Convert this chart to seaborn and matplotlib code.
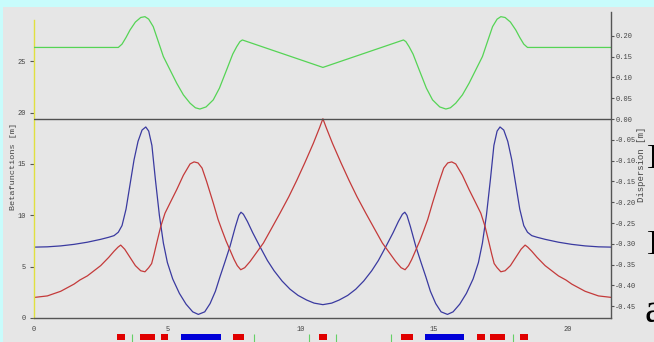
import numpy as np
import pandas as pd
import matplotlib
matplotlib.use("Agg")
import matplotlib.pyplot as plt
import seaborn as sns
from matplotlib.patches import Rectangle

# ---------------- data ----------------
s_betx = [0.0, 0.5, 1.0, 1.5, 2.0, 2.5, 2.8, 3.0, 3.16, 3.3, 3.45, 3.6, 3.75, 3.9, 4.05,
          4.19, 4.3, 4.42, 4.55, 4.7, 4.85, 5.0, 5.2, 5.45, 5.7, 5.95, 6.16, 6.4, 6.6, 6.8,
          6.97, 7.15, 7.35, 7.55, 7.68, 7.76, 7.85, 8.0, 8.2, 8.47, 8.75, 9.0, 9.3, 9.6, 9.9,
          10.22, 10.5, 10.83,
          11.16, 11.44, 11.76, 12.06, 12.36, 12.66, 12.91, 13.19, 13.46, 13.66, 13.81, 13.90,
          13.98, 14.11, 14.31, 14.51, 14.69, 14.86, 15.06, 15.26, 15.50, 15.71, 15.96, 16.21,
          16.46, 16.66, 16.81, 16.96, 17.11, 17.24, 17.36, 17.47, 17.61, 17.76, 17.91, 18.06,
          18.21, 18.36, 18.50, 18.66, 18.86, 19.16, 19.66, 20.16, 20.66, 21.16, 21.66]
betx = [6.90, 6.93, 7.02, 7.17, 7.38, 7.66, 7.86, 8.02, 8.35, 9.0, 10.6, 13.0, 15.4, 17.2, 18.3,
        18.6, 18.2, 16.8, 13.5, 10.0, 7.3, 5.4, 3.8, 2.4, 1.35, 0.6, 0.35, 0.6, 1.4, 2.6,
        4.0, 5.4, 7.0, 8.9, 10.0, 10.3, 10.1, 9.4, 8.3, 6.95, 5.6, 4.6, 3.6, 2.8, 2.2,
        1.75, 1.45, 1.3,
        1.45, 1.75, 2.2, 2.8, 3.6, 4.6, 5.6, 6.95, 8.3, 9.4, 10.1, 10.3,
        10.0, 8.9, 7.0, 5.4, 4.0, 2.6, 1.4, 0.6, 0.35, 0.6, 1.35, 2.4,
        3.8, 5.4, 7.3, 10.0, 13.5, 16.8, 18.2, 18.6, 18.3, 17.2, 15.4, 13.0,
        10.6, 9.0, 8.35, 8.02, 7.86, 7.66, 7.38, 7.17, 7.02, 6.93, 6.90]

s_bety = [0.0, 0.5, 1.0, 1.5, 1.72, 2.0, 2.5, 2.8, 3.0, 3.15, 3.25, 3.4, 3.6, 3.8, 4.0,
          4.16, 4.3, 4.41, 4.5, 4.6, 4.75, 4.91, 5.1, 5.35, 5.6, 5.85, 6.0, 6.15, 6.3, 6.47,
          6.72, 6.9, 7.04, 7.2, 7.35, 7.5, 7.62, 7.75, 7.9, 8.1, 8.35, 8.6, 8.9, 9.22, 9.55,
          9.85, 10.15, 10.47, 10.7, 10.83,
          10.96, 11.19, 11.51, 11.81, 12.11, 12.44, 12.76, 13.06, 13.31, 13.56, 13.76, 13.91,
          14.04, 14.16, 14.31, 14.46, 14.62, 14.76, 14.94, 15.19, 15.36, 15.51, 15.66, 15.81,
          16.06, 16.31, 16.56, 16.75, 16.91, 17.06, 17.16, 17.25, 17.36, 17.50, 17.66, 17.86,
          18.06, 18.26, 18.41, 18.51, 18.66, 18.86, 19.16, 19.66, 19.94, 20.16, 20.66, 21.16,
          21.66]
bety = [2.0, 2.15, 2.6, 3.3, 3.7, 4.1, 5.1, 5.9, 6.5, 6.9, 7.1, 6.7, 5.9, 5.1, 4.6,
        4.5, 4.9, 5.3, 6.2, 7.3, 8.9, 10.2, 11.2, 12.5, 13.9, 15.0, 15.2, 15.1, 14.6, 13.3,
        11.2, 9.6, 8.6, 7.5, 6.6, 5.7, 5.1, 4.7, 4.9, 5.5, 6.4, 7.3, 8.7, 10.2, 11.8,
        13.4, 15.1, 17.0, 18.5, 19.4,
        18.5, 17.0, 15.1, 13.4, 11.8, 10.2, 8.7, 7.3, 6.4, 5.5, 4.9, 4.7,
        5.1, 5.7, 6.6, 7.5, 8.6, 9.6, 11.2, 13.3, 14.6, 15.1, 15.2, 15.0,
        13.9, 12.5, 11.2, 10.2, 8.9, 7.3, 6.2, 5.3, 4.9, 4.5, 4.6, 5.1,
        5.9, 6.7, 7.1, 6.9, 6.5, 5.9, 5.1, 4.1, 3.7, 3.3, 2.6, 2.15,
        2.0]

s_disp = [0.0, 3.16, 3.3, 3.45, 3.6, 3.8, 4.0, 4.16, 4.3, 4.47, 4.65, 4.85, 5.1, 5.35, 5.6,
          5.85, 6.05, 6.22, 6.45, 6.72, 6.95, 7.22, 7.45, 7.6, 7.72, 7.81, 10.83,
          13.85, 13.94, 14.06, 14.21, 14.44, 14.71, 14.94, 15.21, 15.44, 15.61, 15.81, 16.06,
          16.31, 16.56, 16.81, 17.01, 17.19, 17.36, 17.50, 17.66, 17.86, 18.06, 18.21, 18.36,
          18.50, 21.66]
disp = [0.172, 0.172, 0.180, 0.196, 0.214, 0.233, 0.244, 0.246, 0.240, 0.222, 0.188, 0.150,
        0.118, 0.086, 0.058, 0.038, 0.027, 0.024, 0.029, 0.046, 0.074, 0.118, 0.156, 0.174,
        0.186, 0.190, 0.124,
        0.190, 0.186, 0.174, 0.156, 0.118, 0.074, 0.046, 0.029, 0.024, 0.027, 0.038, 0.058,
        0.086, 0.118, 0.150, 0.188, 0.222, 0.240, 0.246, 0.244, 0.233, 0.214, 0.196, 0.180,
        0.172, 0.172]

quad_start = [3.13, 3.97, 4.76, 7.47, 10.69, 13.76, 16.61, 17.10, 18.22]
quad_end = [3.41, 4.54, 5.02, 7.88, 10.99, 14.19, 16.90, 17.66, 18.52]
bend_start = [5.52, 14.65]
bend_end = [7.01, 16.11]
markers = [3.69, 8.25, 10.31, 11.32, 13.39, 17.96]

beta_ticks = [0, 5, 10, 15, 20, 25]
disp_ticks = [0.20, 0.15, 0.10, 0.05, 0.00, -0.05, -0.10, -0.15, -0.20, -0.25, -0.30, -0.35, -0.40, -0.45]
x_ticks = [0, 5, 10, 15, 20]

# ---------------- style ----------------
sns.set_style("white")
plt.rcParams['font.family'] = ['Liberation Mono', 'DejaVu Sans Mono']
plt.rcParams['axes.unicode_minus'] = False

W, H = 654, 342
bg = '#e6e6e6'
cyan = '#c8fcfc'
tickc = '#555555'
fig = plt.figure(figsize=(W / 100, H / 100), dpi=100)
fig.patch.set_facecolor(bg)
fig.patches.append(Rectangle((0, 1 - 7 / H), 1, 7 / H, transform=fig.transFigure,
                             facecolor=cyan, edgecolor='none', zorder=-5))
fig.patches.append(Rectangle((0, 0), 3 / W, 1, transform=fig.transFigure,
                             facecolor=cyan, edgecolor='none', zorder=-5))

L, R, T, B = 34, 611, 12, 318
ax = fig.add_axes([L / W, (H - B) / H, (R - L) / W, (B - T) / H])
ax.set_facecolor(bg)
ax2 = ax.twinx()
ax2.patch.set_visible(False)

xmax = 21.63
ax.set_xlim(0, xmax)
ax.set_ylim(0, (B - T) / 10.27)
ax2.set_ylim(-(B - 119) / 416.0, (119 - T) / 416.0)

dfx = pd.DataFrame({'s': s_betx, 'v': betx})
dfy = pd.DataFrame({'s': s_bety, 'v': bety})
dfd = pd.DataFrame({'s': s_disp, 'v': disp})
sns.lineplot(data=dfx, x='s', y='v', ax=ax, color='#3a3aa0', linewidth=0.9, estimator=None)
sns.lineplot(data=dfy, x='s', y='v', ax=ax, color='#c43a3a', linewidth=0.9, estimator=None)
ax2.axhline(0, color='#505050', linewidth=1.0, zorder=1)
sns.lineplot(data=dfd, x='s', y='v', ax=ax2, color='#55d455', linewidth=0.9, estimator=None)

for a in (ax, ax2):
    a.spines['top'].set_visible(False)
    a.set_xlabel('')
    a.set_ylabel('')
ax.spines['right'].set_visible(False)
ax2.spines['left'].set_visible(False)
ax.spines['left'].set_color('#e0e040')
ax.spines['left'].set_linewidth(1.0)
ax.spines['left'].set_bounds(0, 29.0)
ax.spines['bottom'].set_color(tickc)
ax.spines['bottom'].set_linewidth(1.0)
ax2.spines['bottom'].set_visible(False)
ax2.spines['right'].set_color(tickc)
ax2.spines['right'].set_linewidth(1.0)

ax.set_yticks(beta_ticks)
ax.set_yticklabels([str(t) for t in beta_ticks])
ax.set_xticks(x_ticks)
ax.set_xticklabels([str(t) for t in x_ticks])
ax2.set_yticks(disp_ticks)
ax2.set_yticklabels(['%.2f' % t for t in disp_ticks])
ax.tick_params(axis='y', length=3, width=0.8, color=tickc, labelsize=5,
               labelcolor='#444444', pad=3, direction='out')
ax.tick_params(axis='x', length=2, width=0.8, color=tickc, labelsize=5,
               labelcolor='#444444', pad=4, direction='out')
ax2.tick_params(axis='y', length=2, width=0.8, color=tickc, labelsize=5,
                labelcolor='#444444', pad=1, direction='out')

fig.text(14 / W, 1 - 166 / H, 'Betafunctions [m]', rotation=90, ha='center', va='center',
         fontsize=6.1, color='#444444')
fig.text(641 / W, 1 - 164 / H, 'Dispersion [m]', rotation=90, ha='center', va='center',
         fontsize=6.4, color='#444444')

# element strip
axe = fig.add_axes([L / W, 0, (R - L) / W, 9 / H])
axe.set_xlim(0, xmax)
axe.set_ylim(0, 9)
axe.axis('off')
qs = np.array(quad_start); qe = np.array(quad_end)
bs = np.array(bend_start); be = np.array(bend_end)
axe.bar(qs, 6.6, width=qe - qs, bottom=1.7, align='edge', color='#e00000', linewidth=0)
axe.bar(bs, 6.6, width=be - bs, bottom=1.7, align='edge', color='#0000d8', linewidth=0)
axe.vlines(markers, 0, 8.3, color='#66d066', linewidth=0.8)

# cropped page glyphs at right edge
fig.text(646 / W, 1 - 158 / H, ']', fontsize=20, family='Liberation Serif', va='center', ha='left', color='black')
fig.text(646 / W, 1 - 243 / H, ']', fontsize=20, family='Liberation Serif', va='center', ha='left', color='black')
fig.text(644 / W, 1 - 312 / H, 'a', fontsize=30, family='Liberation Serif', va='center', ha='left', color='black')

fig.savefig('out.png', dpi=100, facecolor=fig.get_facecolor())
